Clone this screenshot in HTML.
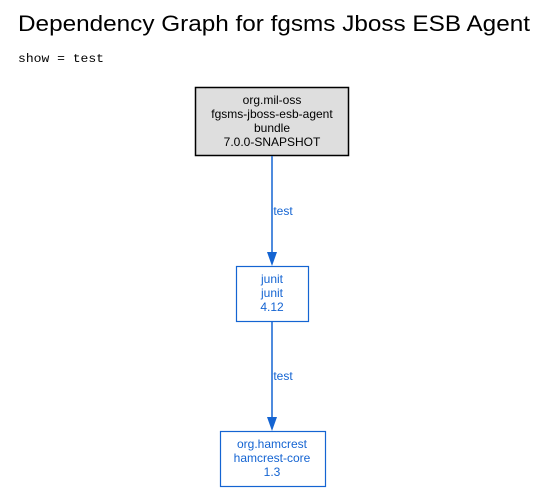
<!DOCTYPE html>
<html><head><meta charset="utf-8"><style>
html,body{margin:0;padding:0;background:#fff;width:545px;height:492px;overflow:hidden}
</style></head><body>
<svg width="545" height="492" xmlns="http://www.w3.org/2000/svg">
<text x="18" y="31" font-family="Liberation Sans, sans-serif" font-size="22" fill="#000" textLength="512" lengthAdjust="spacingAndGlyphs">Dependency Graph for fgsms Jboss ESB Agent</text>
<text x="18" y="62" font-family="Liberation Mono, monospace" font-size="12" fill="#000" textLength="86" lengthAdjust="spacingAndGlyphs">show = test</text>
<rect x="195.5" y="87.5" width="153" height="68" fill="#dedede" stroke="#000" stroke-width="1.5"/>
<g font-family="Liberation Sans, sans-serif" font-size="12" text-anchor="middle" fill="#000">
<text x="272" y="104">org.mil-oss</text>
<text x="272" y="118">fgsms-jboss-esb-agent</text>
<text x="272" y="132">bundle</text>
<text x="272" y="146">7.0.0-SNAPSHOT</text>
</g>
<g stroke="#1464d2" stroke-width="1.5" fill="#1464d2">
<line x1="272" y1="156" x2="272" y2="254"/>
<polygon points="267,252 277,252 272,266" stroke="none"/>
<line x1="272" y1="321" x2="272" y2="419"/>
<polygon points="267,417 277,417 272,431" stroke="none"/>
</g>
<rect x="236.5" y="266.5" width="72" height="55" fill="#fff" stroke="#1464d2" stroke-width="1.2"/>
<rect x="220.5" y="431.5" width="105" height="55" fill="#fff" stroke="#1464d2" stroke-width="1.2"/>
<g font-family="Liberation Sans, sans-serif" font-size="12" text-anchor="middle" fill="#1464d2">
<text x="283" y="215">test</text>
<text x="283" y="380">test</text>
<text x="272" y="283">junit</text>
<text x="272" y="297">junit</text>
<text x="272" y="311">4.12</text>
<text x="272" y="448">org.hamcrest</text>
<text x="272" y="462">hamcrest-core</text>
<text x="272" y="476">1.3</text>
</g>
</svg>
</body></html>
